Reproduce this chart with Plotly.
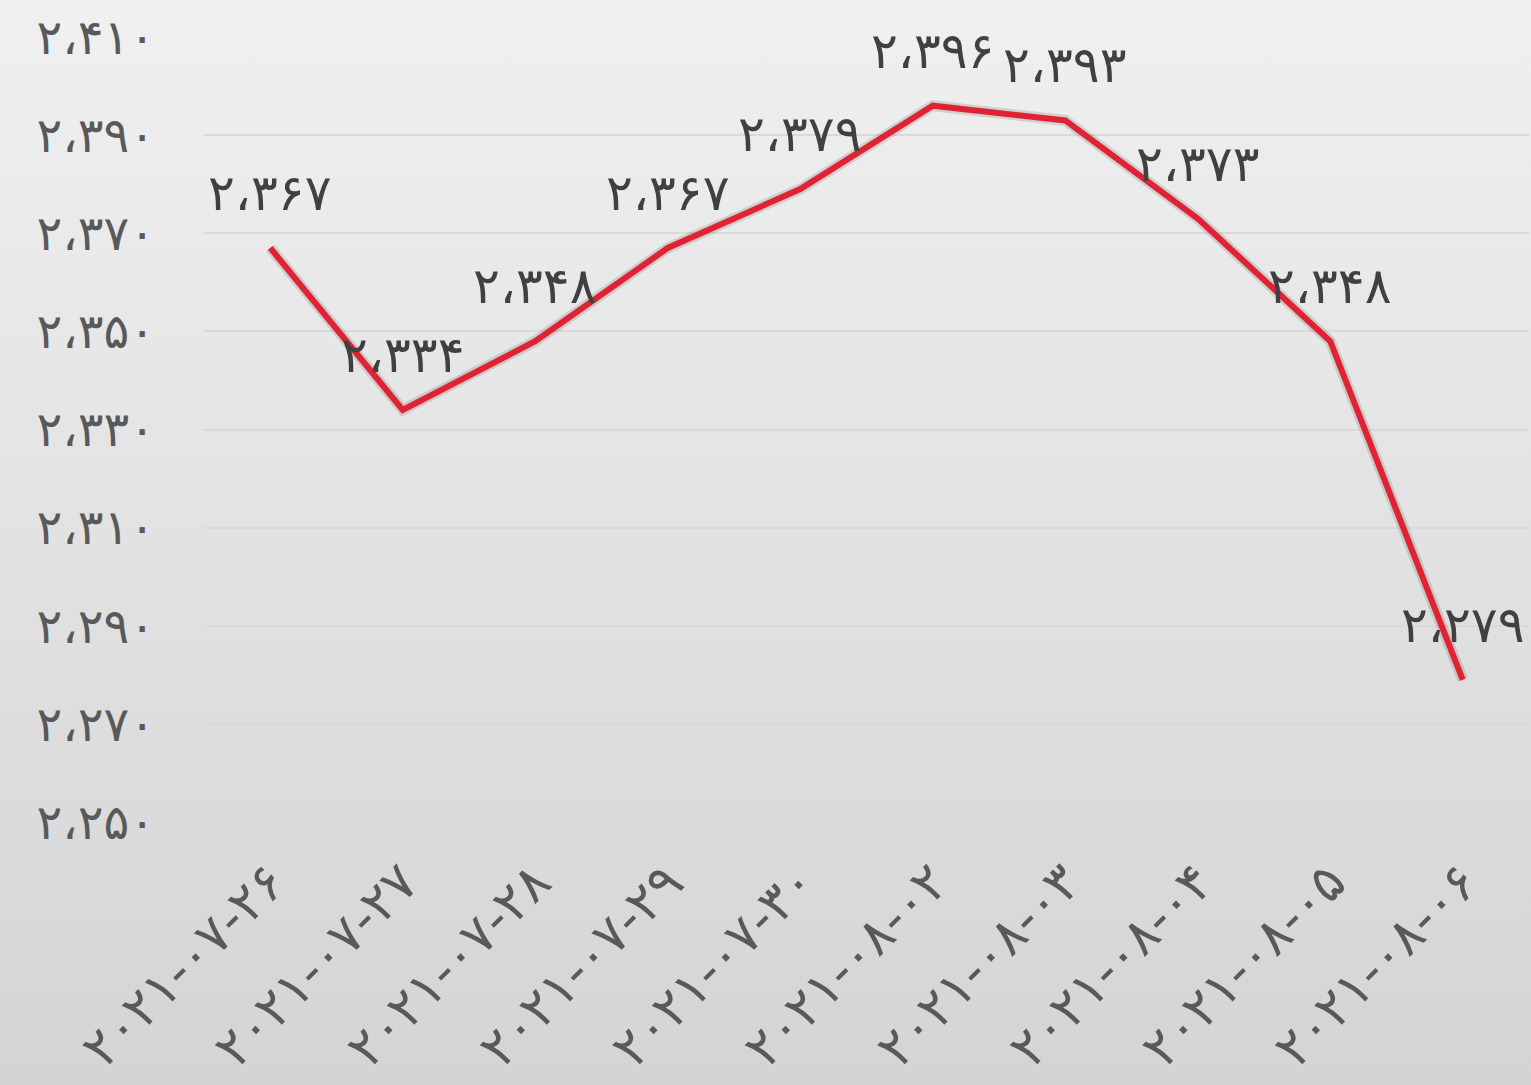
import base64
import plotly.graph_objects as go

# data
dates = ["2021-07-26", "2021-07-27", "2021-07-28", "2021-07-29", "2021-07-30",
         "2021-08-02", "2021-08-03", "2021-08-04", "2021-08-05", "2021-08-06"]
prices = [2367, 2334, 2348, 2367, 2379, 2396, 2393, 2373, 2348, 2279]
y_ticks = [2250, 2270, 2290, 2310, 2330, 2350, 2370, 2390, 2410]

FA_DIGITS = str.maketrans("0123456789", "۰۱۲۳۴۵۶۷۸۹")


def fa_num(v):
    return f"{v:,}".replace(",", "،").translate(FA_DIGITS)


def fa_date(s):
    return s.translate(FA_DIGITS)


W, H = 1531, 1085
L, R, T, B = 204, 2, 37, 263

svg = (
    f'<svg xmlns="http://www.w3.org/2000/svg" width="{W}" height="{H}">'
    '<defs><linearGradient id="g" x1="0" y1="0" x2="0" y2="1">'
    '<stop offset="0" stop-color="#f0f0f0"/><stop offset="1" stop-color="#d4d4d4"/>'
    '</linearGradient></defs>'
    f'<rect width="{W}" height="{H}" fill="url(#g)"/></svg>'
)
bg_src = "data:image/svg+xml;base64," + base64.b64encode(svg.encode()).decode()

pw, ph = W - L - R, H - T - B

fig = go.Figure()

# soft shadow under the line
fig.add_trace(go.Scatter(
    x=dates, y=prices, mode="lines",
    line=dict(color="rgba(0,0,0,0.12)", width=11),
    hoverinfo="skip", showlegend=False,
))
fig.add_trace(go.Scatter(
    x=dates, y=prices, mode="lines",
    line=dict(color="#e02232", width=6),
    showlegend=False,
))

annotations = [
    dict(x=d, y=v, text=fa_num(v), showarrow=False, yshift=55,
         xref="x", yref="y",
         font=dict(size=50, color="#404040", family="DejaVu Sans"))
    for d, v in zip(dates, prices)
]

fig.update_layout(
    width=W, height=H,
    margin=dict(l=L, r=R, t=T, b=B),
    paper_bgcolor="#e4e4e4",
    plot_bgcolor="rgba(0,0,0,0)",
    font=dict(family="DejaVu Sans", color="#595959"),
    images=[dict(
        source=bg_src, xref="paper", yref="paper",
        x=-L / pw, y=1 + T / ph, sizex=W / pw, sizey=H / ph,
        xanchor="left", yanchor="top", sizing="stretch", layer="below",
    )],
    annotations=annotations,
    xaxis=dict(
        type="category",
        tickvals=dates,
        ticktext=[fa_date(d) for d in dates],
        tickangle=-45,
        tickfont=dict(size=52, color="#595959"),
        showgrid=False, zeroline=False, showline=False,
        ticks="", ticklabelstandoff=18,
        range=[-0.5, len(dates) - 0.5],
    ),
    yaxis=dict(
        range=[2250, 2410],
        tickvals=y_ticks,
        ticktext=[fa_num(v) for v in y_ticks],
        tickfont=dict(size=48, color="#595959"),
        gridcolor="#d9d9d9", gridwidth=2,
        zeroline=False, showline=False, ticks="",
        ticklabelstandoff=48,
    ),
)

fig.write_html("out.html", config={"displayModeBar": False},
               post_script="document.body.style.margin='0';")
